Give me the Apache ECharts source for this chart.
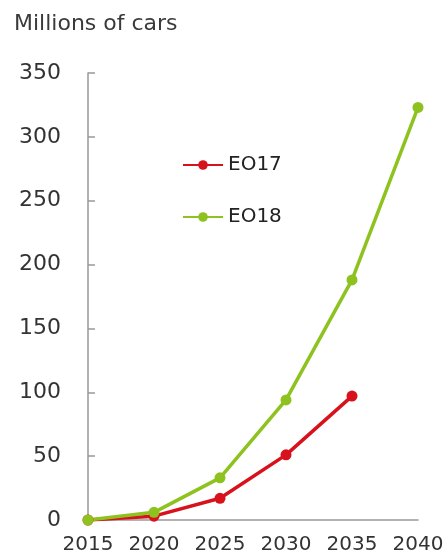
<!DOCTYPE html>
<html>
<head>
<meta charset="utf-8">
<script src="https://cdn.jsdelivr.net/npm/echarts@6/dist/echarts.min.js"></script>
<style>
html,body{margin:0;padding:0;background:#fff;}
#chart{width:447px;height:557px;}
</style>
</head>
<body>
<div id="chart"></div>
<script>
var years = ['2015', '2020', '2025', '2030', '2035', '2040'];
var eo17 = [0, 3, 17, 51, 97, null];
var eo18 = [0, 6, 33, 94, 188, 323];
var yTicks = { min: 0, max: 350, interval: 50 };
var title = 'Millions of cars';

var chart = echarts.init(document.getElementById('chart'));
var font = 'DejaVu Sans, sans-serif';
chart.setOption({
  animation: false,
  title: {
    text: title, left: 9, top: 8,
    textStyle: { fontFamily: font, fontSize: 22, fontWeight: 'normal', color: '#3a3a3a' }
  },
  legend: {
    orient: 'vertical', left: 177, top: 150, itemGap: 32,
    itemWidth: 40, itemHeight: 12,
    textStyle: { fontFamily: font, fontSize: 20, color: '#222' },
    data: ['EO17', 'EO18']
  },
  grid: { left: 88, right: 29, top: 73, bottom: 37, containLabel: false },
  xAxis: {
    type: 'category', data: years, boundaryGap: false,
    axisLine: { lineStyle: { color: '#999', width: 1.5 } },
    axisTick: { show: false },
    axisLabel: { fontFamily: font, fontSize: 20, color: '#333', margin: 15, interval: 0, showMaxLabel: true, hideOverlap: false }
  },
  yAxis: {
    type: 'value', min: yTicks.min, max: yTicks.max, interval: yTicks.interval,
    axisLine: { show: true, lineStyle: { color: '#999', width: 1.5 } },
    axisTick: { show: true, inside: true, length: 7, lineStyle: { color: '#999', width: 1.5 } },
    splitLine: { show: false },
    axisLabel: { fontFamily: font, fontSize: 22, color: '#333', margin: 27 }
  },
  series: [
    {
      name: 'EO17', type: 'line', data: eo17,
      symbol: 'circle', symbolSize: 11,
      itemStyle: { color: '#d8121c' },
      lineStyle: { width: 3.5, color: '#d8121c' }
    },
    {
      name: 'EO18', type: 'line', data: eo18,
      symbol: 'circle', symbolSize: 11,
      itemStyle: { color: '#8dc21f' },
      lineStyle: { width: 3.5, color: '#8dc21f' }
    }
  ]
});
</script>
</body>
</html>
